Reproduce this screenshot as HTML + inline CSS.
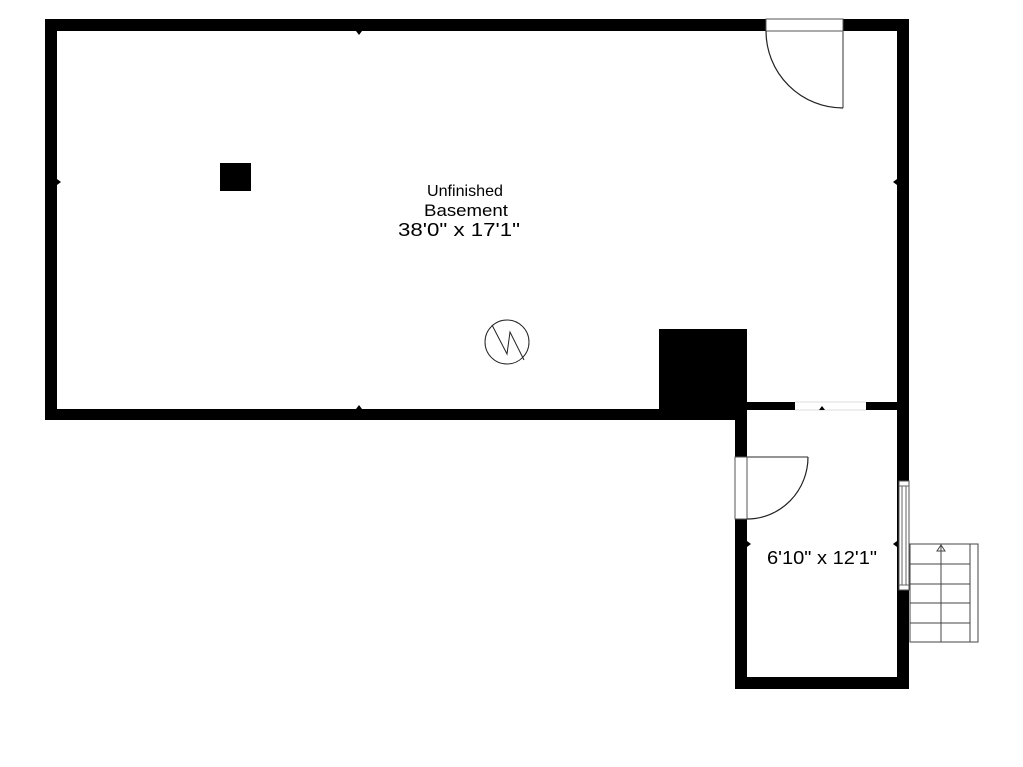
<!DOCTYPE html>
<html><head><style>
html,body{margin:0;padding:0;background:#fff;}
svg{display:block;}
text{font-family:"Liberation Sans",sans-serif;fill:#000;}
</style></head><body>
<svg width="1023" height="767" viewBox="0 0 1023 767" xmlns="http://www.w3.org/2000/svg">
<rect width="1023" height="767" fill="#fff"/>
<rect x="45" y="19" width="864" height="12" fill="#000"/>
<rect x="45" y="19" width="12" height="401" fill="#000"/>
<rect x="45" y="409" width="702" height="11" fill="#000"/>
<rect x="897" y="19" width="12" height="670" fill="#000"/>
<rect x="659" y="329" width="88" height="91" fill="#000"/>
<rect x="735" y="409" width="12" height="280" fill="#000"/>
<rect x="735" y="677" width="174" height="12" fill="#000"/>
<rect x="747" y="402" width="150" height="8" fill="#000"/>
<rect x="795" y="401" width="71" height="10" fill="#fff"/>
<line x1="795" y1="402" x2="866" y2="402" stroke="#ddd" stroke-width="1"/>
<line x1="795" y1="410" x2="866" y2="410" stroke="#ddd" stroke-width="1"/>
<rect x="220" y="163" width="31" height="28" fill="#000"/>
<rect x="766" y="19" width="77" height="12" fill="#fff" stroke="#555" stroke-width="1"/>
<line x1="843" y1="31" x2="843" y2="108" stroke="#555" stroke-width="1.2"/>
<path d="M766 31 A77 77 0 0 0 843 108" fill="none" stroke="#222" stroke-width="1.2"/>
<rect x="735" y="457" width="12" height="62" fill="#fff" stroke="#555" stroke-width="1"/>
<line x1="747" y1="457" x2="808" y2="457" stroke="#555" stroke-width="1.2"/>
<path d="M808 457 A61 62 0 0 1 747 519" fill="none" stroke="#222" stroke-width="1.2"/>
<rect x="899" y="481" width="10" height="109" fill="#fff" stroke="#555" stroke-width="1"/>
<line x1="902" y1="486" x2="902" y2="585" stroke="#666" stroke-width="1"/>
<line x1="906" y1="486" x2="906" y2="585" stroke="#666" stroke-width="1"/>
<line x1="899" y1="486" x2="909" y2="486" stroke="#666" stroke-width="1"/>
<line x1="899" y1="585" x2="909" y2="585" stroke="#666" stroke-width="1"/>
<g stroke="#444" stroke-width="1" fill="none">
<rect x="910" y="544" width="68" height="98"/>
<line x1="970" y1="544" x2="970" y2="642"/>
<line x1="941" y1="544" x2="941" y2="642"/>
<line x1="910" y1="564" x2="970" y2="564"/>
<line x1="910" y1="584" x2="970" y2="584"/>
<line x1="910" y1="603" x2="970" y2="603"/>
<line x1="910" y1="623" x2="970" y2="623"/>
<path d="M937 551 L941 545 L945 551 Z"/>
</g>
<circle cx="507" cy="342" r="22" fill="none" stroke="#222" stroke-width="1"/>
<path d="M492 325 L507 354 L510 332 L524 360" fill="none" stroke="#222" stroke-width="1"/>
<g fill="#000">
<path d="M356 31 L362 31 L359 35 Z"/>
<path d="M356 409 L362 409 L359 405 Z"/>
<path d="M57 179 L57 185 L61 182 Z"/>
<path d="M897 179 L897 185 L893 182 Z"/>
<path d="M819 410 L825 410 L822 406 Z"/>
<path d="M819 677 L825 677 L822 681 Z"/>
<path d="M747 541 L747 547 L751 544 Z"/>
<path d="M897 541 L897 547 L893 544 Z"/>
</g>
<text x="427" y="196" font-size="16" textLength="76" lengthAdjust="spacingAndGlyphs">Unfinished</text>
<text x="424" y="216" font-size="17" textLength="84" lengthAdjust="spacingAndGlyphs">Basement</text>
<text x="398" y="236" font-size="18" textLength="122" lengthAdjust="spacingAndGlyphs">38'0" x 17'1"</text>
<text x="767" y="564" font-size="18" textLength="110" lengthAdjust="spacingAndGlyphs">6'10" x 12'1"</text>
</svg>
</body></html>
